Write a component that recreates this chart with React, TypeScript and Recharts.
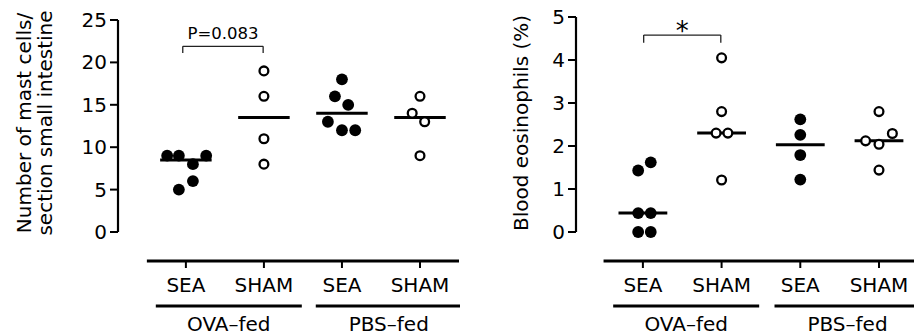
import * as React from 'react';
import { ScatterChart, Scatter, XAxis, YAxis, ReferenceLine, Label } from 'recharts';

const FONT = '"DejaVu Sans", Verdana, sans-serif';

// x categories: group centres sit at 1..4
const treatments = ['SEA', 'SHAM', 'SEA', 'SHAM'];
const treatmentTicks = [1, 2, 3, 4];
const feedGroups = ['OVA–fed', 'PBS–fed'];
const feedTicks = [1.55, 3.6];

// mast cells per section small intestine
const mastOvaSeaY = [9, 9, 9, 8, 6, 5];
const mastOvaSeaX = [0.76, 0.91, 1.26, 1.09, 1.09, 0.91];
const mastOvaShamY = [19, 16, 11, 8];
const mastOvaShamX = [2, 2, 2, 2];
const mastPbsSeaY = [18, 16, 15, 13, 12, 12];
const mastPbsSeaX = [3.0, 2.91, 3.08, 2.82, 3.0, 3.17];
const mastPbsShamY = [16, 14, 13, 9];
const mastPbsShamX = [4.0, 3.9, 4.06, 4.0];
const mastMedians = [8.5, 13.5, 14, 13.5];
const mastTicks = [0, 5, 10, 15, 20, 25];

// blood eosinophils (%)
const eosOvaSeaY = [1.43, 1.62, 0.44, 0.44, 0, 0];
const eosOvaSeaX = [0.94, 1.1, 0.94, 1.1, 0.94, 1.1];
const eosOvaShamY = [4.05, 2.8, 2.3, 2.3, 1.21];
const eosOvaShamX = [2, 2, 1.93, 2.08, 2];
const eosPbsSeaY = [2.62, 2.26, 1.79, 1.22];
const eosPbsSeaX = [3, 3, 3, 3];
const eosPbsShamY = [2.8, 2.29, 2.12, 2.04, 1.44];
const eosPbsShamX = [4, 4.17, 3.83, 4, 4];
const eosMedians = [0.44, 2.3, 2.03, 2.12];
const eosTicks = [0, 1, 2, 3, 4, 5];

const zip = (xs: number[], ys: number[]) => ys.map((y, i) => ({ x: xs[i], y }));

const FilledDot = (p: any) => <circle cx={p.cx} cy={p.cy} r={5.9} fill="#000" />;
const OpenDot = (p: any) => (
  <circle cx={p.cx} cy={p.cy} r={4.4} fill="#fff" stroke="#000" strokeWidth={2.3} />
);
const NoDot = () => <g />;

const FeedTick = (p: any) => (
  <g>
    <line x1={p.x - 73} x2={p.x + 73} y1={p.y + 5} y2={p.y + 5} stroke="#000" strokeWidth={3} />
    <text x={p.x} y={p.y + 30} textAnchor="middle" fontSize={20} fontFamily={FONT} fill="#000">
      {feedGroups[p.index]}
    </text>
  </g>
);

interface PanelProps {
  sea: { x: number; y: number }[];
  sham: { x: number; y: number }[];
  medians: number[];
  medianHalf: number;
  yTicks: number[];
  yDomain: [number, number];
  xDomain: [number, number];
  margin: { top: number; right: number; bottom: number; left: number };
  title: string[];
  titleX: number[];
  bracket: { x1: number; x2: number; top: number; foot: number; text: string; size: number; offset: number };
}

function Panel(props: PanelProps) {
  const { sea, sham, medians, medianHalf, yTicks, yDomain, xDomain, bracket } = props;
  const yTop = yTicks[yTicks.length - 1];
  const ink = '#000';
  const feedAnchors = feedTicks.map(x => ({ x, y: yDomain[0] }));
  return (
    <ScatterChart width={460} height={336} margin={props.margin}>
      <XAxis
        type="number"
        dataKey="x"
        domain={xDomain}
        allowDataOverflow
        ticks={treatmentTicks}
        tickFormatter={(_v: number, i: number) => treatments[i]}
        axisLine={false}
        tickLine={{ stroke: ink, strokeWidth: 2 }}
        tickSize={7}
        tickMargin={10}
        height={40}
        interval={0}
        tick={{ fontSize: 20, fill: ink, fontFamily: FONT }}
      />
      <XAxis
        xAxisId="feed"
        type="number"
        dataKey="x"
        domain={xDomain}
        allowDataOverflow
        ticks={feedTicks}
        axisLine={false}
        tickLine={false}
        tickSize={0}
        tickMargin={0}
        height={35}
        interval={0}
        tick={<FeedTick />}
      />
      <YAxis
        type="number"
        dataKey="y"
        domain={yDomain}
        allowDataOverflow
        ticks={yTicks}
        interval={0}
        axisLine={false}
        tickLine={{ stroke: ink, strokeWidth: 2 }}
        tickSize={8}
        tickMargin={3}
        width={60}
        tick={{ fontSize: 20, fill: ink, fontFamily: FONT }}
      >
        <Label
          content={() => (
            <g>
              {props.title.map((t, i) => (
                <text
                  key={i}
                  x={props.titleX[i]}
                  y={123}
                  transform={`rotate(-90 ${props.titleX[i]} 123)`}
                  textAnchor="middle"
                  fontSize={20}
                  fontFamily={FONT}
                  fill={ink}
                >
                  {t}
                </text>
              ))}
            </g>
          )}
        />
      </YAxis>

      {/* detached axis lines */}
      <ReferenceLine
        segment={[{ x: xDomain[0], y: 0 }, { x: xDomain[0], y: yTop }]}
        stroke={ink}
        strokeWidth={2.2}
        ifOverflow="visible"
      />
      <ReferenceLine
        segment={[{ x: 0.5, y: yDomain[0] }, { x: 4.5, y: yDomain[0] }]}
        stroke={ink}
        strokeWidth={3}
        ifOverflow="visible"
      />

      {medians.map((m, i) => (
        <ReferenceLine
          key={'m' + i}
          segment={[{ x: treatmentTicks[i] - medianHalf, y: m }, { x: treatmentTicks[i] + medianHalf, y: m }]}
          stroke={ink}
          strokeWidth={3}
          ifOverflow="visible"
        />
      ))}

      {/* significance bracket */}
      <ReferenceLine
        segment={[{ x: bracket.x1, y: bracket.top }, { x: bracket.x2, y: bracket.top }]}
        stroke="#222"
        strokeWidth={1.3}
        ifOverflow="visible"
        label={{ value: bracket.text, position: 'top', offset: bracket.offset, fontSize: bracket.size, fill: ink, fontFamily: FONT }}
      />
      <ReferenceLine
        segment={[{ x: bracket.x1, y: bracket.top }, { x: bracket.x1, y: bracket.foot }]}
        stroke="#222"
        strokeWidth={1.3}
        ifOverflow="visible"
      />
      <ReferenceLine
        segment={[{ x: bracket.x2, y: bracket.top }, { x: bracket.x2, y: bracket.foot }]}
        stroke="#222"
        strokeWidth={1.3}
        ifOverflow="visible"
      />

      {/* invisible anchors so the group axis gets laid out */}
      <Scatter xAxisId="feed" data={feedAnchors} shape={<NoDot />} isAnimationActive={false} />
      <Scatter data={sea} shape={<FilledDot />} isAnimationActive={false} />
      <Scatter data={sham} shape={<OpenDot />} isAnimationActive={false} />
    </ScatterChart>
  );
}

export default function App() {
  const mastSea = [...zip(mastOvaSeaX, mastOvaSeaY), ...zip(mastPbsSeaX, mastPbsSeaY)];
  const mastSham = [...zip(mastOvaShamX, mastOvaShamY), ...zip(mastPbsShamX, mastPbsShamY)];
  const eosSea = [...zip(eosOvaSeaX, eosOvaSeaY), ...zip(eosPbsSeaX, eosPbsSeaY)];
  const eosSham = [...zip(eosOvaShamX, eosOvaShamY), ...zip(eosPbsShamX, eosPbsShamY)];

  return (
    <div
      style={{
        position: 'absolute',
        left: 0,
        top: 0,
        width: 914,
        height: 336,
        overflow: 'hidden',
        background: '#fff',
        fontFamily: FONT,
      }}
    >
      <div style={{ position: 'absolute', left: 0, top: 0 }}>
        <Panel
          sea={mastSea}
          sham={mastSham}
          medians={mastMedians}
          medianHalf={0.33}
          yTicks={mastTicks}
          yDomain={[-3.42, 25]}
          xDomain={[0.13, 4.5]}
          margin={{ top: 20, right: 1, bottom: 0, left: 58 }}
          title={['Number of mast cells/', 'section small intestine']}
          titleX={[31, 52]}
          bracket={{ x1: 0.96, x2: 1.99, top: 21.9, foot: 21.1, text: 'P=0.083', size: 16.5, offset: 7 }}
        />
      </div>
      <div style={{ position: 'absolute', left: 460, top: 0 }}>
        <Panel
          sea={eosSea}
          sham={eosSham}
          medians={eosMedians}
          medianHalf={0.31}
          yTicks={eosTicks}
          yDomain={[-0.674, 5]}
          xDomain={[0.15, 4.45]}
          margin={{ top: 17, right: 5.6, bottom: 0, left: 56 }}
          title={['Blood eosinophils (%)']}
          titleX={[68]}
          bracket={{ x1: 1.01, x2: 1.99, top: 4.58, foot: 4.4, text: '*', size: 26, offset: -5 }}
        />
      </div>
    </div>
  );
}
